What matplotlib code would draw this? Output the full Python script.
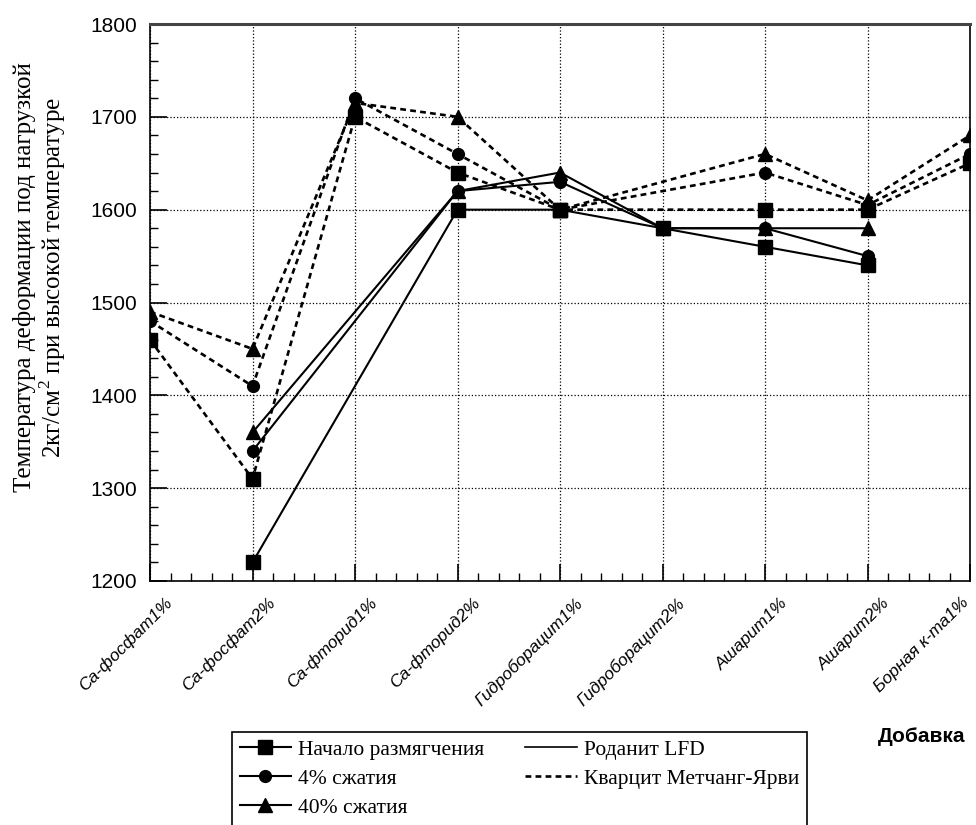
import numpy as np
import matplotlib.pyplot as plt
from matplotlib.lines import Line2D
from matplotlib.transforms import ScaledTranslation

plt.rcParams['mathtext.fontset'] = 'custom'
plt.rcParams['mathtext.rm'] = 'Liberation Serif'

categories = ['Ca-фосфат1%', 'Ca-фосфат2%', 'Ca-фторид1%', 'Ca-фторид2%',
              'Гидроборацит1%', 'Гидроборацит2%', 'Ашарит1%', 'Ашарит2%',
              'Борная к-та1%']

nan = np.nan
# Роданит LFD (сплошные)
rodanit_soft = [nan, 1220, nan, 1600, 1600, 1580, 1560, 1540, nan]
rodanit_4 = [nan, 1340, nan, 1620, 1630, 1580, 1580, 1550, nan]
rodanit_40 = [nan, 1360, nan, 1620, 1640, 1580, 1580, 1580, nan]
# Кварцит Метчанг-Ярви (пунктир)
kvarc_soft = [1460, 1310, 1700, 1640, 1600, nan, 1600, 1600, 1650]
kvarc_4 = [1480, 1410, 1720, 1660, 1600, nan, 1640, 1605, 1660]
kvarc_40 = [1490, 1450, 1715, 1700, 1600, nan, 1660, 1610, 1680]

prop_labels = ['Начало размягчения', '4% сжатия', '40% сжатия']
mat_labels = ['Роданит LFD', 'Кварцит Метчанг-Ярви']
markers = ['s', 'o', '^']
msizes = [9.5, 8.5, 9.5]

fig = plt.figure(figsize=(9.76, 8.25), dpi=100)
ax = fig.add_axes([150 / 976, 1 - 581 / 825, 820 / 976, 557 / 825])

x = np.arange(len(categories))


def draw(vals, marker, ms, dashed):
    y = np.array(vals, dtype=float)
    m = ~np.isnan(y)
    if dashed:
        ax.plot(x[m], y[m], color='k', lw=1.9, marker=marker, ms=ms,
                linestyle=(0, (2.2, 1.6)), zorder=3)
    else:
        ax.plot(x[m], y[m], color='k', lw=1.5, marker=marker, ms=ms,
                linestyle='-', zorder=3)


for vals, mk, ms in zip([kvarc_soft, kvarc_4, kvarc_40], markers, msizes):
    draw(vals, mk, ms, True)
for vals, mk, ms in zip([rodanit_soft, rodanit_4, rodanit_40], markers, msizes):
    draw(vals, mk, ms, False)

ax.set_xlim(0, len(categories) - 1)
ax.set_ylim(1200, 1800)
ax.set_yticks(np.arange(1200, 1801, 100))
ax.set_yticks(np.arange(1200, 1801, 20), minor=True)
ax.set_xticks(x)
ax.set_xticks(np.arange(0, len(categories) - 1 + 0.01, 0.2), minor=True)

ax.tick_params(axis='both', which='major', direction='in', length=12, width=1.2)
ax.tick_params(axis='both', which='minor', direction='in', length=6, width=1)
ax.tick_params(axis='y', which='major', pad=9, labelsize=15)
ax.tick_params(axis='x', which='major', pad=14)

ax.set_xticklabels(categories, rotation=45, ha='right', va='center',
                   rotation_mode='anchor', fontstyle='italic',
                   family='Liberation Sans', fontsize=12.5)
# подписи категорий чуть правее засечек, последняя упирается в край
shifts = [0.2] * (len(categories) - 1) + [-0.04]
for lab, dx in zip(ax.get_xticklabels(), shifts):
    lab.set_transform(lab.get_transform() +
                      ScaledTranslation(dx, 0.0, fig.dpi_scale_trans))
for lab in ax.get_yticklabels():
    lab.set_family('Liberation Sans')

ax.grid(True, which='major', linestyle=':', color='k', lw=0.9, zorder=0)
for side in ['left', 'bottom', 'right']:
    ax.spines[side].set_linewidth(1.2)
ax.spines['top'].set_linewidth(2.2)
ax.spines['top'].set_color('#444444')

ax.set_ylabel('Температура деформации под нагрузкой\n2кг/см$^{2}$ при высокой температуре',
              family='Liberation Serif', fontsize=18, linespacing=1.05,
              multialignment='center')
ax.yaxis.set_label_coords(-0.1, 0.545)

fig.text(922 / 976, 1 - 737 / 825, 'Добавка', family='Liberation Sans',
         fontweight='bold', fontsize=15, ha='center', va='center')

handles = [Line2D([], [], color='k', lw=1.5, marker=mk, ms=ms)
           for mk, ms in zip(markers, msizes)]
handles.append(Line2D([], [], linestyle='none'))
handles.append(Line2D([], [], color='k', lw=1.2))
handles.append(Line2D([], [], color='k', lw=1.9, linestyle=(0, (2.2, 1.6))))
handles.append(Line2D([], [], linestyle='none'))
handles.append(Line2D([], [], linestyle='none'))
labels = prop_labels + [''] + mat_labels + ['', '']

leg = fig.legend(handles, labels, loc='upper left',
                 bbox_to_anchor=(232 / 976, 1 - 732 / 825), ncol=2,
                 prop={'family': 'Liberation Serif', 'size': 15.5},
                 fancybox=False, edgecolor='k', framealpha=1,
                 borderaxespad=0, handlelength=2.4, handletextpad=0.33,
                 columnspacing=1.9, labelspacing=0.42, borderpad=0.35)
leg.get_frame().set_linewidth(1.2)

fig.savefig('out.png', dpi=100)
